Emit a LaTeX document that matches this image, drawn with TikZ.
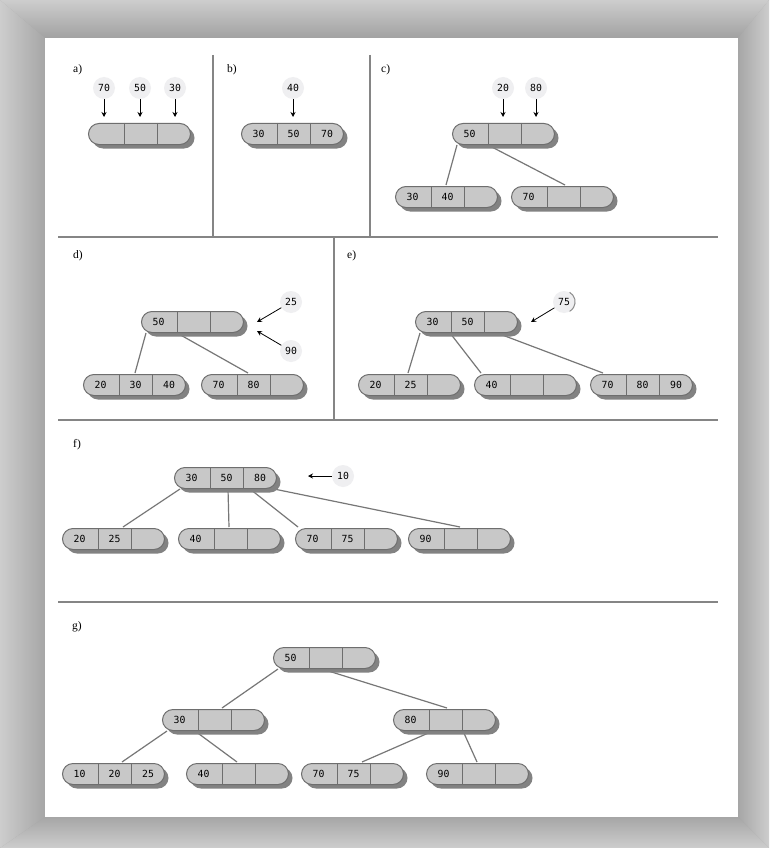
\documentclass[tikz,border=0pt]{standalone}
\usepackage{fontspec}
\setmainfont{Liberation Serif}
\setmonofont{DejaVu Sans Mono}
\usetikzlibrary{arrows.meta,shadows,calc}
\definecolor{btfill}{HTML}{C8C8C8}
\definecolor{btline}{HTML}{6E6E6E}
\definecolor{btshadow}{HTML}{828282}
\definecolor{infill}{HTML}{EFEFF1}
\definecolor{rulegray}{HTML}{858585}
\definecolor{linkgray}{HTML}{777777}
\definecolor{frlight}{HTML}{CDCDCD}
\definecolor{frdark}{HTML}{A6A6A6}

\pgfdeclarelayer{frame}
\pgfdeclarelayer{links}
\pgfsetlayers{frame,links,main}

% one B-tree node: name, north-west corner, three keys
\newcommand{\BT}[5]{%
  \node[bt] (#1) at (#2) {};
  \draw[divl] ($(#1.north west)!0.35!(#1.north east)$) -- ($(#1.south west)!0.35!(#1.south east)$);
  \draw[divl] ($(#1.north west)!0.675!(#1.north east)$) -- ($(#1.south west)!0.675!(#1.south east)$);
  \node[key] at ($(#1.west)!0.17!(#1.east)$) {#3};
  \node[key] at ($(#1.west)!0.51!(#1.east)$) {#4};
  \node[key] at ($(#1.west)!0.835!(#1.east)$) {#5};
}

\begin{document}
\begin{tikzpicture}[
    x=1pt, y=-1pt,
    >={Stealth[length=5pt,width=5pt]},
    bt/.style={draw=btline, fill=btfill, line width=1pt, rounded corners=10.5pt,
      minimum width=102pt, minimum height=21pt, inner sep=0pt, anchor=north west,
      drop shadow={shadow xshift=4pt, shadow yshift=-4pt, fill=btshadow, opacity=1}},
    divl/.style={draw=btline, line width=1pt},
    key/.style={font=\ttfamily\fontsize{9.8}{10}\selectfont, text=black, inner sep=0pt},
    inkey/.style={circle, fill=infill, minimum size=22pt, inner sep=0pt,
      font=\ttfamily\fontsize{9.8}{10}\selectfont, text=black},
    inarrow/.style={->, line width=0.8pt, black},
    link/.style={draw=linkgray, line width=1.2pt},
    rule/.style={draw=rulegray, line width=1.5pt},
    tag/.style={anchor=west, inner sep=0pt, font=\fontsize{11.5}{12}\selectfont},
  ]
  \useasboundingbox (0,0) rectangle (769,848);

  %% grey frame round the white sheet
  \begin{pgfonlayer}{frame}
    \fill[frdark] (0,0) rectangle (769,848);
    \shade[top color=frlight, bottom color=frdark!105] (0,0) -- (769,0) -- (738,38) -- (45,38) -- cycle;
    \shade[left color=frlight, right color=frdark] (0,0) -- (45,38) -- (45,817) -- (0,848) -- cycle;
    \shade[left color=frdark, right color=frlight] (769,0) -- (738,38) -- (738,817) -- (769,848) -- cycle;
    \shade[top color=frdark, bottom color=frlight] (0,848) -- (45,817) -- (738,817) -- (769,848) -- cycle;
    \fill[white] (45,38) rectangle (738,817);
  \end{pgfonlayer}

  %% panel rules
  \draw[rule] (213,55) -- (213,237);
  \draw[rule] (370,55) -- (370,237);
  \draw[rule] (58,237) -- (718,237);
  \draw[rule] (334,237) -- (334,420);
  \draw[rule] (58,420) -- (718,420);
  \draw[rule] (58,602) -- (718,602);

  \node[tag] (la) at (73,70)  {a)};
  \node[tag] (lb) at (227,70) {b)};
  \node[tag] (lc) at (381,70) {c)};
  \node[tag] (ld) at (73,256) {d)};
  \node[tag] (le) at (347,256) {e)};
  \node[tag] (lf) at (73,445) {f)};
  \node[tag] (lg) at (72,627) {g)};

  %% a) three keys into an empty node
  \BT{na}{88,123}{}{}{}
  \foreach \k/\x in {70/104, 50/140, 30/175} {
    \node[inkey] (in\k a) at (\x,88) {\k};
    \draw[inarrow, shorten >=6pt] (in\k a) -- (in\k a |- na.north);
  }

  %% b) full node, 40 arrives
  \BT{nb}{241,123}{30}{50}{70}
  \node[inkey] (in40b) at (293,88) {40};
  \draw[inarrow, shorten >=6pt] (in40b) -- (in40b |- nb.north);

  %% c) after the split
  \BT{cp}{452,123}{50}{}{}
  \BT{cl}{395,186}{30}{40}{}
  \BT{cr}{511,186}{70}{}{}
  \foreach \k/\x in {20/503, 80/536} {
    \node[inkey] (in\k c) at (\x,88) {\k};
    \draw[inarrow, shorten >=6pt] (in\k c) -- (in\k c |- cp.north);
  }

  %% d)
  \BT{dp}{141,311}{50}{}{}
  \BT{dl}{83,374}{20}{30}{40}
  \BT{dr}{201,374}{70}{80}{}
  \node[inkey] (in25d) at (291,302) {25};
  \node[inkey] (in90d) at (291,351) {90};
  \coordinate (t25d) at (257,322);
  \coordinate (t90d) at (257,331);
  \draw[inarrow] (in25d) -- (t25d);
  \draw[inarrow] (in90d) -- (t90d);

  %% e)
  \BT{ep}{415,311}{30}{50}{}
  \BT{el}{358,374}{20}{25}{}
  \BT{em}{474,374}{40}{}{}
  \BT{er}{590,374}{70}{80}{90}
  \node[inkey] (in75e) at (564,302) {75};
  \draw[draw=black!45, line width=1pt] (in75e.60) arc[start angle=60, end angle=-60, radius=11pt];
  \coordinate (t75e) at (531,322);
  \draw[inarrow] (in75e) -- (t75e);

  %% f)
  \BT{fp}{174,467}{30}{50}{80}
  \BT{fa}{62,528}{20}{25}{}
  \BT{fb}{178,528}{40}{}{}
  \BT{fc}{295,528}{70}{75}{}
  \BT{fd}{408,528}{90}{}{}
  \node[inkey] (in10f) at (343,476) {10};
  \coordinate (t10f) at (308,476);
  \draw[inarrow] (in10f) -- (t10f);

  %% g) final tree
  \BT{gr}{273,647}{50}{}{}
  \BT{gl}{162,709}{30}{}{}
  \BT{gm}{393,709}{80}{}{}
  \BT{gla}{62,763}{10}{20}{25}
  \BT{glb}{186,763}{40}{}{}
  \BT{gma}{301,763}{70}{75}{}
  \BT{gmb}{426,763}{90}{}{}

  %% parent -> child links (offsets along parent bottom / child top)
  \begin{pgfonlayer}{links}
    \foreach \p/\a/\c/\b in {cp/5/cl/51, cp/36/cr/54,
        dp/5/dl/52, dp/36/dr/47,
        ep/5/el/50, ep/35/em/7, ep/82/er/13,
        fp/6/fa/61, fp/54/fb/51, fp/76/fc/3, fp/100/fd/52,
        gr/5/gl/60, gr/49/gm/54, gl/5/gla/60, gl/33/glb/51, gm/40/gma/61, gm/70/gmb/51} {
      \draw[link] ([xshift=\a pt]\p.south west) -- ([xshift=\b pt, yshift=1pt]\c.north west);
    }
  \end{pgfonlayer}

\end{tikzpicture}
\end{document}
